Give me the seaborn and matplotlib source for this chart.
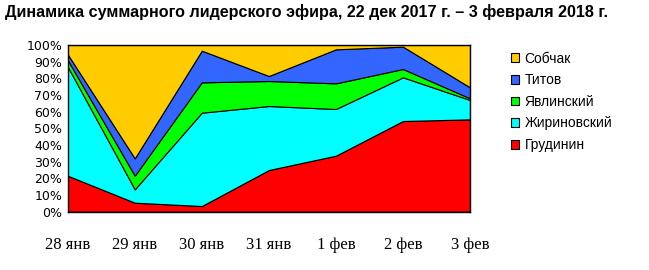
import matplotlib
matplotlib.use("Agg")
import matplotlib.pyplot as plt
from matplotlib.patches import Patch
import seaborn as sns
import numpy as np

# ---- data ----
days = ["28 янв", "29 янв", "30 янв", "31 янв", "1 фев", "2 фев", "3 фев"]
grudinin = [21.6, 5.4, 3.4, 25.0, 33.6, 54.4, 55.4]
zhirinovsky = [65.4, 8.0, 56.0, 38.4, 28.0, 26.2, 11.6]
yavlinsky = [4.0, 8.2, 18.2, 15.0, 15.4, 5.0, 1.0]
titov = [3.4, 10.4, 19.0, 3.0, 20.4, 13.4, 6.6]
sobchak = [5.6, 68.0, 3.4, 18.6, 2.6, 1.0, 25.4]
names = ["Грудинин", "Жириновский", "Явлинский", "Титов", "Собчак"]
colors = ["#FF0000", "#00FFFF", "#00FF00", "#3366FF", "#FFCC00"]
title = "Динамика суммарного лидерского эфира, 22 дек 2017 г. – 3 февраля 2018 г."

sns.set_style("white")
plt.rcParams["font.family"] = ["DejaVu Sans"]
plt.rcParams["text.color"] = "black"
plt.rcParams["xtick.color"] = "black"
plt.rcParams["ytick.color"] = "black"
plt.rcParams["axes.labelcolor"] = "black"

fig = plt.figure(figsize=(6.49, 2.70), dpi=100)
ax = fig.add_axes([67.7 / 649, 1 - 211.7 / 270, (470 - 67.7) / 649, (211.7 - 45) / 270])

x = np.arange(len(days))
series = [grudinin, zhirinovsky, yavlinsky, titov, sobchak]
ax.stackplot(x, *series, colors=colors, edgecolor="black", linewidth=0.8)

ax.set_xlim(0, len(days) - 1)
ax.set_ylim(0, 100)
ax.set_xticks(x)
ax.set_xticklabels(days, fontfamily="Liberation Serif", fontsize=12)
ax.set_yticks(np.arange(0, 101, 10))
ax.set_yticklabels([f"{v}%" for v in range(0, 101, 10)], fontsize=9)
ax.tick_params(axis="x", direction="out", length=4, width=1, pad=14, color="black")
ax.tick_params(axis="y", direction="out", length=3, width=1, pad=1, color="black")
for s in ax.spines.values():
    s.set_color("black")
    s.set_linewidth(1)
    s.set_visible(True)

handles = [Patch(facecolor=c, edgecolor="black", linewidth=0.8, label=n)
           for n, c in zip(names, colors)]
leg = fig.legend(handles=handles[::-1], loc="upper left",
                 bbox_to_anchor=(505 / 649, 1 - 46 / 270),
                 frameon=False, fontsize=10, handlelength=0.6, handleheight=0.6,
                 handletextpad=0.4, labelspacing=0.55, borderaxespad=0)
for t in leg.get_texts():
    t.set_fontfamily("Liberation Sans")
    t.set_color("black")

fig.text(5 / 649, 1 - 12 / 270, title, fontsize=11.6, fontweight="bold",
         fontfamily="Liberation Sans", color="black", va="center", ha="left")

fig.savefig("out.png", dpi=100, facecolor="white")
